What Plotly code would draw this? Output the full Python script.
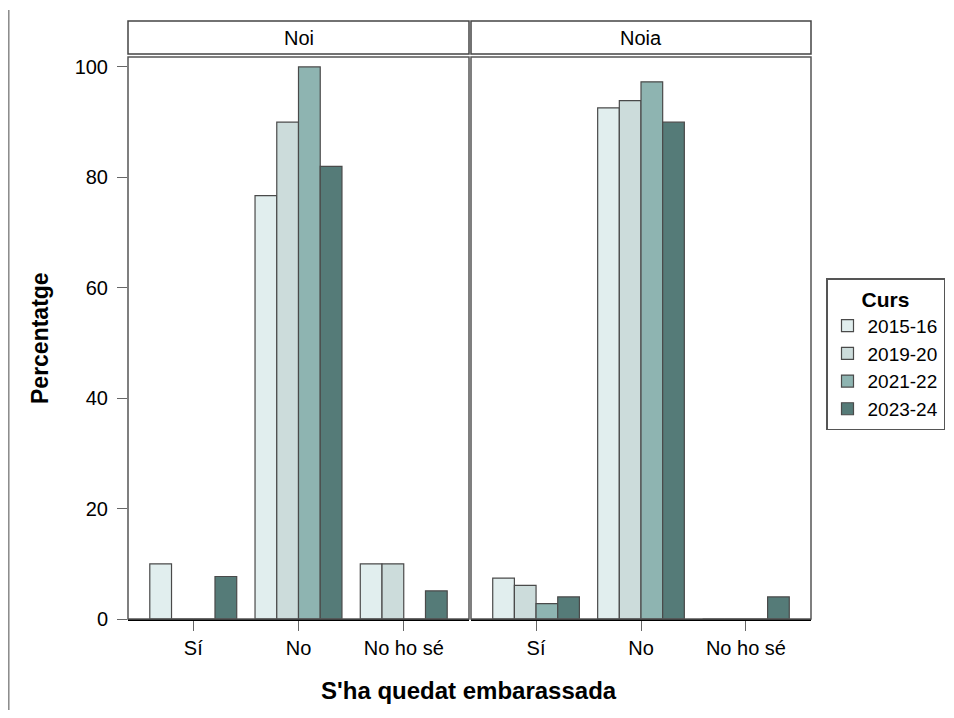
import plotly.graph_objects as go

# Data
categories = ["Sí", "No", "No ho sé"]
cursos = ["2015-16", "2019-20", "2021-22", "2023-24"]
panels = ["Noi", "Noia"]

noi_values = {
    "2015-16": [10.0, 76.7, 10.0],
    "2019-20": [0.0, 90.0, 10.0],
    "2021-22": [0.0, 100.0, 0.0],
    "2023-24": [7.7, 82.0, 5.1],
}
noia_values = {
    "2015-16": [7.4, 92.6, 0.0],
    "2019-20": [6.1, 93.9, 0.0],
    "2021-22": [2.8, 97.3, 0.0],
    "2023-24": [4.0, 90.0, 4.0],
}
y_ticks = [0, 20, 40, 60, 80, 100]

colors = ["#E1EEEE", "#CCDCDB", "#8EB4B1", "#557B78"]

FONT = "Liberation Sans, Arial, sans-serif"

fig = go.Figure()

# Add the bars for both panels
for p, panel_values in enumerate([noi_values, noia_values]):
    axis = "" if p == 0 else "2"
    for i, curs in enumerate(cursos):
        fig.add_trace(go.Bar(
            x=categories,
            y=panel_values[curs],
            name=curs,
            marker=dict(color=colors[i], line=dict(color="#4a4a4a", width=1.2)),
            xaxis="x" + axis,
            yaxis="y" + axis,
            legendgroup=curs,
            showlegend=(p == 0),
        ))

# Page offset (browser body margin) - positions below are in screen pixels
OFF = 8
W, H = 954 - 2 * OFF, 718 - 2 * OFF
L, R, T, B = 128 - OFF, 811 - OFF, 57 - OFF, 619 - OFF
pw, ph = R - L, B - T

def px(x):
    return (x - OFF - L) / pw

def py(y):
    return (B - (y - OFF)) / ph

x_range = [-0.62, 2.62]
y_range = [0, 101.8]

axis_common = dict(
    type="category",
    range=x_range,
    showgrid=False,
    zeroline=False,
    showline=True,
    linecolor="black",
    linewidth=2,
    ticks="outside",
    ticklen=10,
    tickcolor="#666666",
    tickfont=dict(size=20, color="black"),
)

shapes = []
annotations = []

# Panel frames and strips
for p, (x0, x1) in enumerate([(128, 469), (471, 811)]):
    shapes.append(dict(type="rect", xref="paper", yref="paper",
                       x0=px(x0), x1=px(x1), y0=0, y1=1,
                       line=dict(color="#555555", width=1.5), layer="above"))
    shapes.append(dict(type="rect", xref="paper", yref="paper",
                       x0=px(x0), x1=px(x1), y0=py(54), y1=py(21),
                       line=dict(color="#444444", width=1.5), fillcolor="white"))
    annotations.append(dict(text=panels[p], xref="paper", yref="paper",
                            x=(px(x0) + px(x1)) / 2, y=(py(54) + py(21)) / 2,
                            xanchor="center", yanchor="middle",
                            showarrow=False, font=dict(size=20, color="black")))

# Thin gray line at the left edge
shapes.append(dict(type="line", xref="paper", yref="paper",
                   x0=px(8.8), x1=px(8.8), y0=py(718), y1=py(10),
                   line=dict(color="#888888", width=1.5)))

# Axis titles
annotations.append(dict(text="<b>S'ha quedat embarassada</b>", xref="paper", yref="paper",
                        x=px(469), y=py(690), xanchor="center", yanchor="middle",
                        showarrow=False, font=dict(size=24, color="black")))
annotations.append(dict(text="<b>Percentatge</b>", xref="paper", yref="paper",
                        x=px(40), y=0.5, xanchor="center", yanchor="middle",
                        showarrow=False, textangle=-90,
                        font=dict(size=23, color="black")))

fig.update_layout(
    width=W,
    height=H,
    margin=dict(l=L, r=W - R, t=T, b=H - B, autoexpand=False),
    paper_bgcolor="white",
    plot_bgcolor="white",
    font=dict(family=FONT, color="black"),
    barmode="group",
    bargap=0.174,
    bargroupgap=0,
    xaxis=dict(domain=[0, px(469)], **axis_common),
    xaxis2=dict(domain=[px(471), 1], **axis_common),
    yaxis=dict(
        range=y_range,
        tickvals=y_ticks,
        showgrid=False,
        zeroline=False,
        ticks="outside",
        ticklen=10,
        ticklabelstandoff=5,
        tickcolor="#666666",
        tickfont=dict(size=20, color="black"),
    ),
    yaxis2=dict(
        range=y_range,
        anchor="x2",
        showgrid=False,
        zeroline=False,
        showticklabels=False,
    ),
    legend=dict(
        title=dict(text="<b>Curs</b>", font=dict(size=21), side="top center"),
        x=px(826),
        y=py(278),
        xanchor="left",
        yanchor="top",
        bordercolor="#555555",
        borderwidth=1.5,
        font=dict(size=19),
        tracegroupgap=8,
        traceorder="normal",
    ),
    shapes=shapes,
    annotations=annotations,
)

fig.write_html("out.html")
